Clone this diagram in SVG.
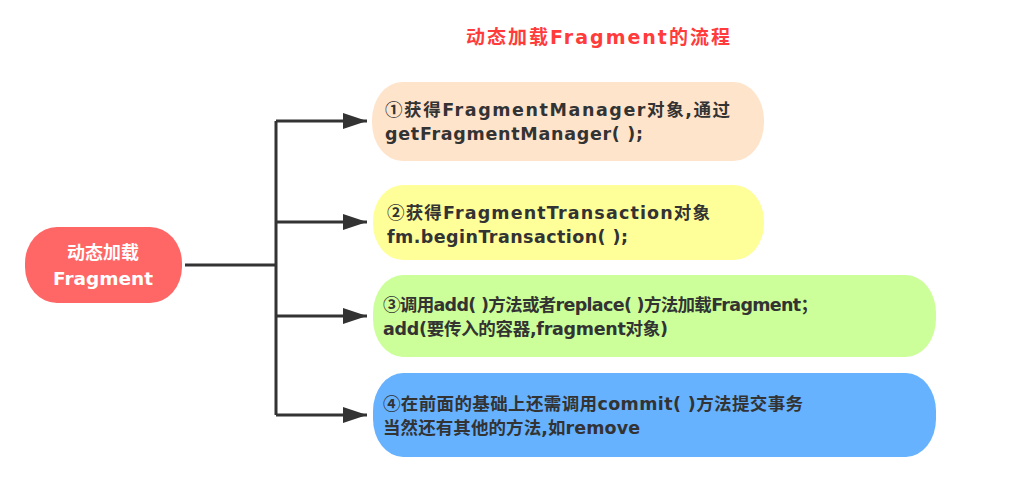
<svg xmlns="http://www.w3.org/2000/svg" width="1029" height="489" viewBox="0 0 1029 489">
  <style>
    .t { font-family: "DejaVu Sans", "Noto Sans CJK SC", sans-serif; font-weight: bold; }
    .cj { font-family: "Noto Sans CJK SC", sans-serif; }
    .nt { font-size: 17.5px; fill: #333333; }
    .ct { font-size: 18px; fill: #ffffff; text-anchor: middle; }
    .title { font-size: 19px; fill: #FF3B3B; }
    .conn { stroke: #333333; stroke-width: 3; fill: none; }
  </style>
  <defs>
    <marker id="arr" markerUnits="userSpaceOnUse" markerWidth="26" markerHeight="20" refX="24" refY="10" orient="auto">
      <polygon points="0,2 24,10 0,18" fill="#333333"/>
    </marker>
  </defs>
  <rect width="1029" height="489" fill="#ffffff"/>

  <text class="t title" x="466" y="44" textLength="264" lengthAdjust="spacing">动态加载Fragment的流程</text>

  <g id="connectors">
    <path class="conn" d="M185,265 H276"/>
    <path class="conn" d="M276,121 V415"/>
    <path class="conn" d="M276,121 H367" marker-end="url(#arr)"/>
    <path class="conn" d="M276,222 H367" marker-end="url(#arr)"/>
    <path class="conn" d="M276,316 H367" marker-end="url(#arr)"/>
    <path class="conn" d="M276,415 H367" marker-end="url(#arr)"/>
  </g>

  <g id="center">
    <rect x="25" y="227" width="157" height="76" rx="32" ry="36" fill="#FF6666"/>
    <text class="t ct" x="103" y="259">动态加载</text>
    <text class="t ct" x="103" y="285" textLength="100" lengthAdjust="spacingAndGlyphs">Fragment</text>
  </g>

  <g id="node1">
    <rect x="372" y="82" width="392" height="79" rx="30" ry="38" fill="#FFE4CC"/>
    <text class="t nt" x="385" y="116" textLength="345" lengthAdjust="spacing"><tspan class="cj">①</tspan>获得FragmentManager对象,通过</text>
    <text class="t nt" x="385" y="140" textLength="258" lengthAdjust="spacing">getFragmentManager( );</text>
  </g>

  <g id="node2">
    <rect x="373" y="185" width="391" height="75" rx="30" ry="36" fill="#FFFF99"/>
    <text class="t nt" x="387" y="219" textLength="323" lengthAdjust="spacing"><tspan class="cj">②</tspan>获得FragmentTransaction对象</text>
    <text class="t nt" x="387" y="243" textLength="241" lengthAdjust="spacing">fm.beginTransaction( );</text>
  </g>

  <g id="node3">
    <rect x="373" y="275" width="563" height="82" rx="30" ry="38" fill="#CCFF99"/>
    <text class="t nt" x="383" y="311" textLength="435" lengthAdjust="spacing"><tspan class="cj">③</tspan>调用add( )方法或者replace( )方法加载Fragment；</text>
    <text class="t nt" x="383" y="335" textLength="285" lengthAdjust="spacing">add(要传入的容器,fragment对象)</text>
  </g>

  <g id="node4">
    <rect x="373" y="373" width="563" height="84" rx="30" ry="38" fill="#66B2FF"/>
    <text class="t nt" x="383" y="410" textLength="420" lengthAdjust="spacing"><tspan class="cj">④</tspan>在前面的基础上还需调用commit( )方法提交事务</text>
    <text class="t nt" x="383" y="434" textLength="257" lengthAdjust="spacing">当然还有其他的方法,如remove</text>
  </g>
</svg>
